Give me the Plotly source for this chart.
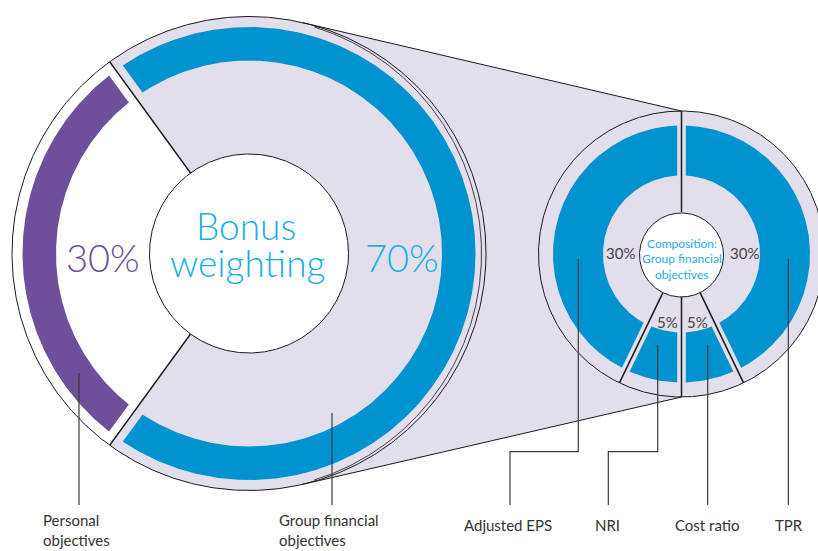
import math
import plotly.graph_objects as go

# ---- data -------------------------------------------------------------
bonus_labels = ["Group financial\nobjectives", "Personal\nobjectives"]
bonus_weights = [70, 30]
bonus_pct_text = ["70%", "30%"]

comp_labels = ["TPR", "Cost ratio", "NRI", "Adjusted EPS"]
comp_weights = [30, 5, 5, 30]
comp_pct_text = ["30%", "5%", "5%", "30%"]

centre_title = ["Bonus", "weighting"]
comp_title = ["Composition:", "Group financial", "objectives"]

# ---- look -------------------------------------------------------------
W, H = 818, 551
LAVENDER = "#e3deeb"
BLUE = "#0093cf"
PURPLE = "#6e4f9b"
TEXT_BLUE = "#1aaee5"
INK = "#1a1a1a"
GREY = "#3a3a3a"
FONT = "Lato"

BIG_C, BIG_R, BIG_HOLE, BIG_BAND, BIG_GAP = (249.0, 253.5), 237.0, 99.5, (193.0, 226.5), 8.5
SM_C, SM_R, SM_HOLE, SM_BAND, SM_GAP = (681.5, 254.0), 143.0, 42.0, (78.5, 128.5), 4.3


def pt(c, r, a):
    t = math.radians(a)
    return c[0] + r * math.cos(t), c[1] - r * math.sin(t)


def arc(c, r, a0, a1):
    n = max(12, int(abs(a1 - a0) * 2))
    return [pt(c, r, a0 + (a1 - a0) * i / n) for i in range(n + 1)]


def band(c, r_in, r_out, a0, a1, gap):
    """Ring segment running clockwise from a0 to a1 with ends set back by `gap` px."""
    go_ = math.degrees(math.asin(gap / r_out))
    gi = math.degrees(math.asin(gap / r_in))
    outer = arc(c, r_out, a0 - go_, a1 + go_)
    inner = arc(c, r_in, a1 + gi, a0 - gi)
    return outer + inner + [outer[0]]


def bounds(weights, start):
    total = sum(weights)
    out = [start]
    for w in weights:
        out.append(out[-1] - 360.0 * w / total)
    return out


def tangent_angle(c, R, p, upper):
    dx, dy = p[0] - c[0], c[1] - p[1]
    base = math.degrees(math.atan2(dy, dx))
    off = math.degrees(math.acos(R / math.hypot(dx, dy)))
    return base + off if upper else base - off


def poly(points, fill, name, line_color=None, width=0):
    xs, ys = zip(*points)
    return go.Scatter(
        x=xs, y=ys, mode="lines", fill="toself" if fill else None,
        fillcolor=fill, name=name, hoverinfo="skip", showlegend=False,
        line=dict(color=line_color or "rgba(0,0,0,0)", width=width),
    )


def path(points, color=INK, width=1.0):
    xs, ys = zip(*points)
    return go.Scatter(x=xs, y=ys, mode="lines", hoverinfo="skip", showlegend=False,
                      line=dict(color=color, width=width))


fig = go.Figure()

# slice boundaries: personal share centred on the left, composition starts at 12 o'clock
big_b = bounds(bonus_weights, 180.0 - 180.0 * bonus_weights[1] / sum(bonus_weights))
sm_b = bounds(comp_weights, 90.0)

# lavender zoom "funnel": group sector + tangent lines + composition disc
p_top = (SM_C[0], SM_C[1] - SM_R)
p_bot = (SM_C[0], SM_C[1] + SM_R)
t_top = tangent_angle(BIG_C, BIG_R, p_top, True)
t_bot = tangent_angle(BIG_C, BIG_R, p_bot, False)
funnel = ([BIG_C] + arc(BIG_C, BIG_R, big_b[0], t_top) + [p_top]
          + arc(SM_C, SM_R, 90, -90) + [p_bot]
          + arc(BIG_C, BIG_R, t_bot, big_b[1]) + [BIG_C])
fig.add_trace(poly(funnel, LAVENDER, "funnel"))

# bonus weighting ring
ring_colors = [BLUE, PURPLE]
for i, lab in enumerate(bonus_labels):
    fig.add_trace(poly(band(BIG_C, BIG_BAND[0], BIG_BAND[1], big_b[i], big_b[i + 1], BIG_GAP),
                       ring_colors[i], lab.replace("\n", " ")))

# composition ring
for i, lab in enumerate(comp_labels):
    fig.add_trace(poly(band(SM_C, SM_BAND[0], SM_BAND[1], sm_b[i], sm_b[i + 1], SM_GAP), BLUE, lab))

# outlines
fig.add_trace(path(arc(BIG_C, BIG_R, 0, 360), width=1.0))
fig.add_trace(path(arc((BIG_C[0] - 4.5, BIG_C[1]), BIG_R, t_top - 4, t_bot + 4), width=0.8))
fig.add_trace(path([pt(BIG_C, BIG_R, t_top), p_top], width=1.0))
fig.add_trace(path([pt(BIG_C, BIG_R, t_bot), p_bot], width=1.0))
fig.add_trace(path(arc(SM_C, SM_R, 0, 360), width=1.0))
for a in big_b[:2]:
    fig.add_trace(path([pt(BIG_C, BIG_HOLE, a), pt(BIG_C, BIG_R, a)], width=1.4))
for a in sm_b[:4]:
    fig.add_trace(path([pt(SM_C, SM_HOLE, a), pt(SM_C, SM_R, a)], width=1.5))

# white hubs
fig.add_trace(poly(arc(BIG_C, BIG_HOLE, 0, 360), "white", "hub", INK, 1.0))
fig.add_trace(poly(arc((SM_C[0], SM_C[1] + 1), SM_HOLE, 0, 360), "white", "hub", INK, 1.0))

# leader lines
LEAD_BOTTOM = 505
bonus_leaders = [[(332, 413), (332, LEAD_BOTTOM)], [(79, 373), (79, LEAD_BOTTOM)]]
comp_leaders = [
    [(788.3, 259), (788.3, LEAD_BOTTOM)],
    [(707.7, 345), (707.7, LEAD_BOTTOM)],
    [(657.7, 345), (657.7, 451.7), (608.3, 451.7), (608.3, LEAD_BOTTOM)],
    [(578.3, 259), (578.3, 451.7), (510, 451.7), (510, LEAD_BOTTOM)],
]
for pts in bonus_leaders + comp_leaders:
    fig.add_trace(path(pts, GREY, 1.2))


def note(x, y, text, size, color, weight=400, anchor="center"):
    fig.add_annotation(x=x, y=y, text=text, showarrow=False, xanchor=anchor, yanchor="middle",
                       font=dict(family=FONT, size=size, color=color, weight=weight))


# centre title
note(246, 225, centre_title[0], 37, TEXT_BLUE, 300)
note(247, 262, centre_title[1], 37, TEXT_BLUE, 300)

# big percentages
big_pct_pos = [(402, 257), (103, 257)]
big_pct_col = [TEXT_BLUE, PURPLE]
for i, t in enumerate(bonus_pct_text):
    note(big_pct_pos[i][0], big_pct_pos[i][1], t, 38, big_pct_col[i], 300)

# composition percentages
comp_pct_pos = [(744.5, 253), (697.5, 322), (667, 322), (620.5, 253)]
for i, t in enumerate(comp_pct_text):
    note(comp_pct_pos[i][0], comp_pct_pos[i][1], t, 15, "#444444")

# composition title
for i, line in enumerate(comp_title):
    note(681.5, 243 + 15.7 * i, line, 12, TEXT_BLUE)

# bottom labels
bonus_label_x = [277, 41]
for i, lab in enumerate(bonus_labels):
    for j, line in enumerate(lab.split("\n")):
        note(bonus_label_x[i], 520 + 20 * j, line, 15, "#333333", anchor="left")
comp_label_x = [789, 707, 607, 508]
for i, lab in enumerate(comp_labels):
    note(comp_label_x[i], 525, lab, 15, "#333333")

fig.update_layout(
    width=W, height=H, margin=dict(l=0, r=0, t=0, b=0),
    paper_bgcolor="white", plot_bgcolor="white", showlegend=False,
    xaxis=dict(range=[0, W], visible=False, fixedrange=True),
    yaxis=dict(range=[H, 0], visible=False, fixedrange=True),
)
fig.write_html("out.html")
